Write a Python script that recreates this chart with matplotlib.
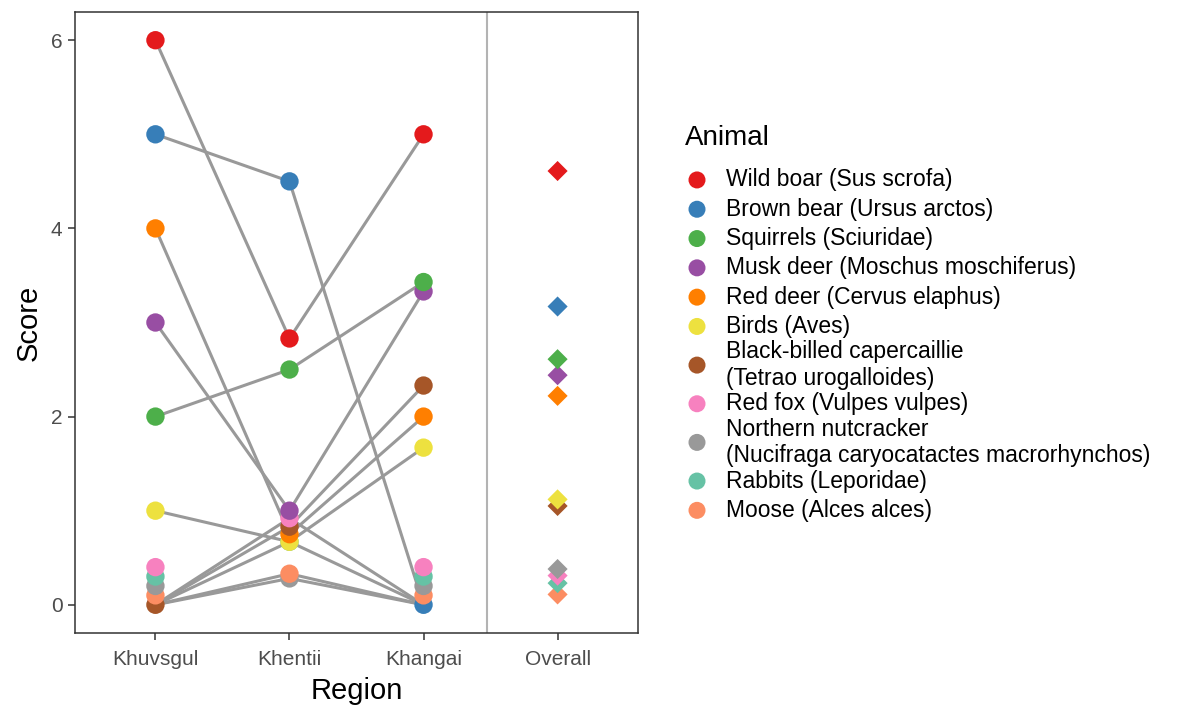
import numpy as np
import matplotlib.pyplot as plt

plt.rcParams['font.family'] = ['Liberation Sans', 'DejaVu Sans']

# regions on the x axis, "Overall" is the mean column to the right of the divider
regions = ['Khuvsgul', 'Khentii', 'Khangai', 'Overall']

animals = ['Wild boar (Sus scrofa)',
           'Brown bear (Ursus arctos)',
           'Squirrels (Sciuridae)',
           'Musk deer (Moschus moschiferus)',
           'Red deer (Cervus elaphus)',
           'Birds (Aves)',
           'Black-billed capercaillie\n(Tetrao urogalloides)',
           'Red fox (Vulpes vulpes)',
           'Northern nutcracker\n(Nucifraga caryocatactes macrorhynchos)',
           'Rabbits (Leporidae)',
           'Moose (Alces alces)']

colors = ['#E41A1C', '#377EB8', '#4DAF4A', '#984EA3', '#FF7F00', '#EDE13F',
          '#A65628', '#F781BF', '#999999', '#66C2A5', '#FC8D62']

# scores per region (same order as animals)
khuvsgul = [6, 5, 2, 3, 4, 1, 0, 0, 0, 0, 0]
khentii = [2.83, 4.5, 2.5, 1.0, 0.75, 0.67, 0.83, 0.92, 0.28, 0.67, 0.33]
khangai = [5, 0, 3.43, 3.33, 2, 1.67, 2.33, 0, 0, 0, 0]
overall = [4.61, 3.17, 2.61, 2.44, 2.22, 1.12, 1.05, 0.31, 0.38, 0.23, 0.11]

# small vertical nudges so the tied zero scores stay visible
nudge_khuvsgul = [0, 0, 0, 0, 0, 0, 0, 0.4, 0.2, 0.3, 0.1]
nudge_khangai = [0, 0, 0, 0, 0, 0, 0, 0.4, 0.2, 0.3, 0.1]

W, H = 1185, 706
fig = plt.figure(figsize=(W / 100, H / 100), dpi=100)
ax = fig.add_axes([0.0633, 0.1034, 0.4751, 0.8796])

scores = np.array([khuvsgul, khentii, khangai]).T
xs = np.arange(1, 4)

# connecting lines per animal across the three regions
for row in scores:
    ax.plot(xs, row, color='#999999', lw=2.2, zorder=2, solid_capstyle='butt')

shown = [np.add(khuvsgul, nudge_khuvsgul), np.array(khentii),
         np.add(khangai, nudge_khangai)]

# higher points on top, ties go to the earlier animal
for xi, col in zip(xs, shown):
    order = sorted(range(len(animals)), key=lambda k: (col[k], -k))
    for z, k in enumerate(order):
        ax.scatter(xi, col[k], s=175, color=colors[k], edgecolors='none',
                   zorder=3 + z * 0.01)

order = sorted(range(len(animals)), key=lambda k: (overall[k], -k))
for z, k in enumerate(order):
    ax.scatter(4, overall[k], s=105, marker='D', color=colors[k],
               edgecolors='none', zorder=3 + z * 0.01)

ax.axvline(3.47, color='#b3b3b3', lw=1.5, zorder=1)

ax.set_xlim(0.4, 4.6)
ax.set_ylim(-0.3, 6.3)
ax.set_xticks(range(1, 5))
ax.set_xticklabels(regions)
ax.set_yticks([0, 2, 4, 6])
ax.tick_params(axis='both', length=5, width=1.1, color='#333333',
               labelcolor='#4d4d4d', labelsize=15)
ax.tick_params(axis='x', pad=7)
ax.tick_params(axis='y', pad=4)
for sp in ax.spines.values():
    sp.set_color('#333333')
    sp.set_linewidth(1.1)

ax.set_xlabel('Region', fontsize=21, labelpad=6)
ax.set_ylabel('Score', fontsize=21, labelpad=6)

# legend drawn by hand in pixel coordinates, so two-line labels
# only take the height of their text
lax = fig.add_axes([0, 0, 1, 1])
lax.set_xlim(0, W)
lax.set_ylim(H, 0)
lax.axis('off')
lax.text(685, 138, 'Animal', fontsize=20, ha='left', va='center')
top = 165.3
for lab, c in zip(animals, colors):
    h = 48 if '\n' in lab else 29.3
    yc = top + h / 2
    lax.scatter(697, yc, s=150, color=c, edgecolors='none')
    lax.text(726, yc, lab, fontsize=16.5, ha='left', va='center')
    top += h

fig.savefig('out.png', dpi=100, facecolor='white')
